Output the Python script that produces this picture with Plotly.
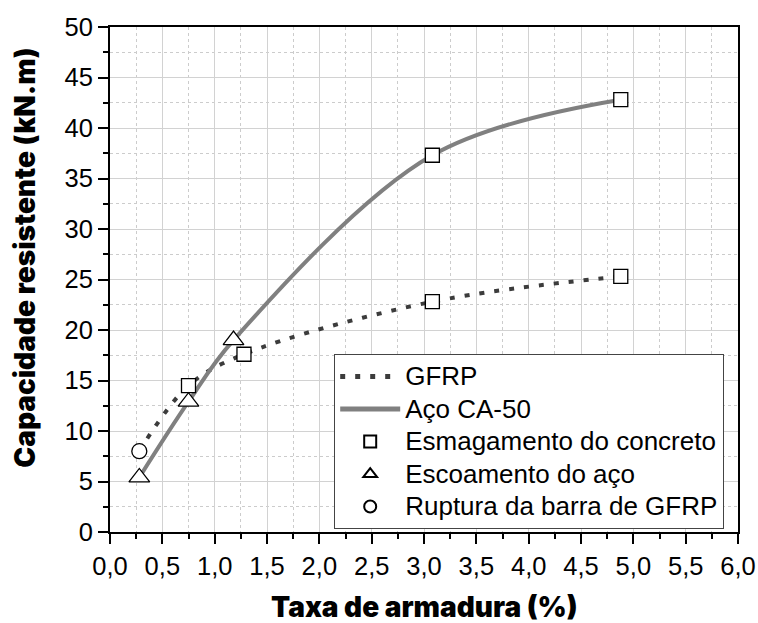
import plotly.graph_objects as go

# Reinforcement ratio (%) and moment capacity (kN.m)
gfrp_x = [0.28, 0.75, 1.28, 3.08, 4.88]
gfrp_y = [8.0, 14.5, 17.6, 22.8, 25.3]
aco_x = [0.28, 0.75, 1.18, 3.08, 4.88]
aco_y = [5.4, 12.9, 19.0, 37.3, 42.8]

# Failure mode of each point
gfrp_modo = ["ruptura", "esmagamento", "esmagamento", "esmagamento", "esmagamento"]
aco_modo = ["escoamento", "escoamento", "escoamento", "esmagamento", "esmagamento"]

modos = [
    ("esmagamento", "square", "Esmagamento do concreto", 14),
    ("escoamento", "triangle-up", "Escoamento do aço", 18),
    ("ruptura", "circle", "Ruptura da barra de GFRP", 15),
]


def rotulo(txt):
    # larger glyphs inside compact legend rows
    return '<span style="font-size:26px">' + txt + "</span>"


fig = go.Figure()
fig.add_trace(go.Scatter(
    x=gfrp_x, y=gfrp_y, mode="lines", name=rotulo("GFRP"),
    line=dict(color="#3c3c3c", width=4, dash="5px,10px", shape="spline", smoothing=1.0),
))
fig.add_trace(go.Scatter(
    x=aco_x, y=aco_y, mode="lines", name=rotulo("Aço CA-50"),
    line=dict(color="#808080", width=4, shape="spline", smoothing=1.0),
))

for modo, simbolo, nome, tam in modos:
    xs, ys = [], []
    for xv, yv, m in zip(gfrp_x, gfrp_y, gfrp_modo):
        if m == modo:
            xs.append(xv); ys.append(yv)
    for xv, yv, m in zip(aco_x, aco_y, aco_modo):
        if m == modo:
            xs.append(xv); ys.append(yv)
    fig.add_trace(go.Scatter(
        x=xs, y=ys, mode="markers", name=rotulo(nome),
        marker=dict(symbol=simbolo, size=tam, color="white",
                    line=dict(color="black", width=1.3)),
    ))

tick_font = dict(family="Liberation Sans, Arial, sans-serif", size=25.5, color="black")
title_font = dict(family="Inter, Roboto, sans-serif", size=28, color="black", weight=900)

fig.update_layout(
    width=758, height=623,
    margin=dict(l=110, r=20, t=27, b=91),
    plot_bgcolor="white", paper_bgcolor="white",
    separators=", ",
    showlegend=True,
    legend=dict(
        x=0.357, y=0.352, xanchor="left", yanchor="top",
        bordercolor="#444444", borderwidth=1, bgcolor="white",
        font=dict(family="Liberation Sans, Arial, sans-serif", size=22.7, color="black"),
        itemwidth=60, itemsizing="constant", tracegroupgap=0,
    ),
    xaxis=dict(
        range=[0, 6], dtick=0.5, tick0=0, tickformat=".1f", automargin=False,
        showline=True, linecolor="black", linewidth=2, mirror=True,
        ticks="outside", ticklen=10, tickwidth=2, tickcolor="black",
        showgrid=True, gridcolor="#d2d2d2", gridwidth=1.2,
        minor=dict(dtick=0.25, ticks="outside", ticklen=5, tickwidth=1.5, tickcolor="black",
                   showgrid=True, gridcolor="#cccccc", griddash="dot", gridwidth=1),
        zeroline=False, tickfont=tick_font,
    ),
    yaxis=dict(
        range=[0, 50], dtick=5, tick0=0, automargin=False,
        showline=True, linecolor="black", linewidth=2, mirror=True,
        ticks="outside", ticklen=10, tickwidth=2, tickcolor="black",
        showgrid=True, gridcolor="#d2d2d2", gridwidth=1.2,
        minor=dict(dtick=2.5, ticks="outside", ticklen=5, tickwidth=1.5, tickcolor="black",
                   showgrid=True, gridcolor="#cccccc", griddash="dot", gridwidth=1),
        zeroline=False, tickfont=tick_font,
    ),
    annotations=[
        dict(text="Taxa de armadura (%)", xref="paper", yref="paper",
             x=0.5, y=-0.149, xanchor="center", yanchor="middle",
             showarrow=False, font=title_font),
        dict(text="Capacidade resistente (kN.m)", xref="paper", yref="paper",
             x=-0.1354, y=0.543, xanchor="center", yanchor="middle", textangle=-90,
             showarrow=False, font=title_font),
    ],
)

fig.write_html("out.html")
